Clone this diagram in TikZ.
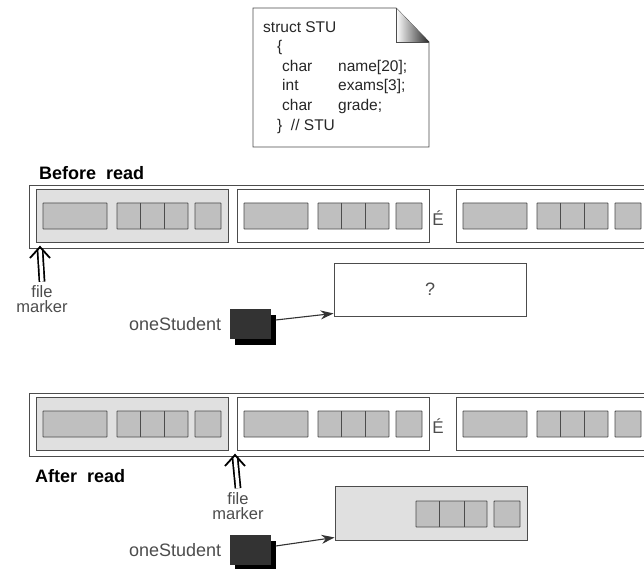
\documentclass[tikz,border=0pt]{standalone}
\usepackage{fontspec}
\setmainfont{Liberation Sans}
\usetikzlibrary{arrows.meta,positioning,shadows}

\begin{document}
\begin{tikzpicture}[x=1pt, y=-1pt, >=Stealth,
    field/.style={draw=black!70, fill=black!25, line width=0.9pt, rounded corners=0.6pt},
    rec/.style={draw=black!70, line width=0.9pt},
    lbl/.style={font=\fontsize{18}{14}\selectfont, text=black!70, align=center, inner sep=0pt},
    title/.style={font=\fontsize{18}{18}\selectfont\bfseries, inner sep=0pt},
    ptr/.style={fill=black!80, minimum width=41pt, minimum height=30pt, inner sep=0pt,
      drop shadow={shadow xshift=5pt, shadow yshift=-6pt, fill=black, opacity=1}},
    marker/.style={double, double distance=3.4pt, line width=1.7pt},
    chevron/.style={line width=1.8pt, line join=miter},
    link/.style={-{Stealth[length=13pt, width=9pt]}, draw=black!80, line width=1.1pt}]
  \useasboundingbox (0,0) rectangle (644,569);
  \clip (0,0) rectangle (644,569);

  % Structure declaration (page with folded corner)
  \draw[black!70, line width=0.9pt, fill=white] (253,8) -- (396,8) -- (429,42) -- (429,147) -- (253,147) -- cycle;
  \shade[left color=white, right color=black!85] (396,8) -- (429,42) -- (396,42) -- cycle;
  \draw[black!70, line width=0.9pt] (396,8) -- (396,42) -- (429,42);
  \node[anchor=north west, align=left, inner sep=0pt, text=black!85,
        font=\fontsize{15.5}{19.6}\selectfont] (stu) at (263,21)
    {struct STU\\
     \hspace*{14pt}\{\\
     \hspace*{19pt}\makebox[56pt][l]{char}name[20];\\
     \hspace*{19pt}\makebox[56pt][l]{int}exams[3];\\
     \hspace*{19pt}\makebox[56pt][l]{char}grade;\\
     \hspace*{14pt}\}\ \ // STU};

  % File strips: before and after read
  \foreach \y in {185,393} {
    \draw[rec] (29,\y) rectangle (660,{\y+63});
    \foreach \x/\f in {36/black!12, 237/white, 456/white} {
      \draw[rec, fill=\f] (\x,{\y+4}) rectangle ({\x+192},{\y+57});
      \draw[field] ({\x+7},{\y+18}) rectangle ({\x+71},{\y+44});
      \draw[field] ({\x+81},{\y+18}) rectangle ({\x+152},{\y+44});
      \draw[black!70, line width=0.9pt] ({\x+104},{\y+18}) -- ({\x+104},{\y+44})
                                        ({\x+128},{\y+18}) -- ({\x+128},{\y+44});
      \draw[field] ({\x+159},{\y+18}) rectangle ({\x+185},{\y+44});
    }
  }
  \node[lbl, font=\fontsize{17}{14}\selectfont] (dots1) at (438,218) {É};
  \node[lbl, font=\fontsize{17}{14}\selectfont] (dots2) at (438,426) {É};

  % Before read
  \node[title, anchor=west] (before) at (39,173) {Before\ \ read};
  \coordinate (tip1) at (40,247);
  \node[lbl, font=\fontsize{16.5}{15}\selectfont] (fm1) at (42,299.5) {file\\marker};
  \draw[marker] ([yshift=4pt]fm1.north) -- ([yshift=-2pt]tip1);
  \draw[chevron] ([shift={(-10,11)}]tip1) -- (tip1) -- ([shift={(10,11)}]tip1);

  \node[draw=black!70, line width=0.9pt, minimum width=192pt, minimum height=53pt,
        lbl, inner sep=0pt] (box1) at (430,289.5) {?};
  \node[ptr] (sq1) at (250,324) {};
  \node[lbl, left=8pt of sq1] (os1) {oneStudent};
  \draw[link] ([xshift=5pt, yshift=4pt]sq1.east) -- ([yshift=3pt]box1.south west);

  % After read
  \node[title, anchor=west] (after) at (35,476) {After\ \ read};
  \coordinate (tip2) at (235,455);
  \node[lbl, font=\fontsize{16.5}{15}\selectfont] (fm2) at (238,506) {file\\marker};
  \draw[marker] ([yshift=4pt]fm2.north) -- ([yshift=-2pt]tip2);
  \draw[chevron] ([shift={(-10,11)}]tip2) -- (tip2) -- ([shift={(10,11)}]tip2);

  \node[rec, fill=black!12, minimum width=192pt, minimum height=54pt, inner sep=0pt] (box2) at (431,513) {};
  \draw[field] (416,501) rectangle (487,527);
  \draw[black!70, line width=0.9pt] (439,501) -- (439,527) (464,501) -- (464,527);
  \draw[field] (494,501) rectangle (520,527);
  \node[ptr] (sq2) at (250,550) {};
  \node[lbl, left=8pt of sq2] (os2) {oneStudent};
  \draw[link] ([xshift=5pt, yshift=4pt]sq2.east) -- ([yshift=3pt]box2.south west);
\end{tikzpicture}
\end{document}
